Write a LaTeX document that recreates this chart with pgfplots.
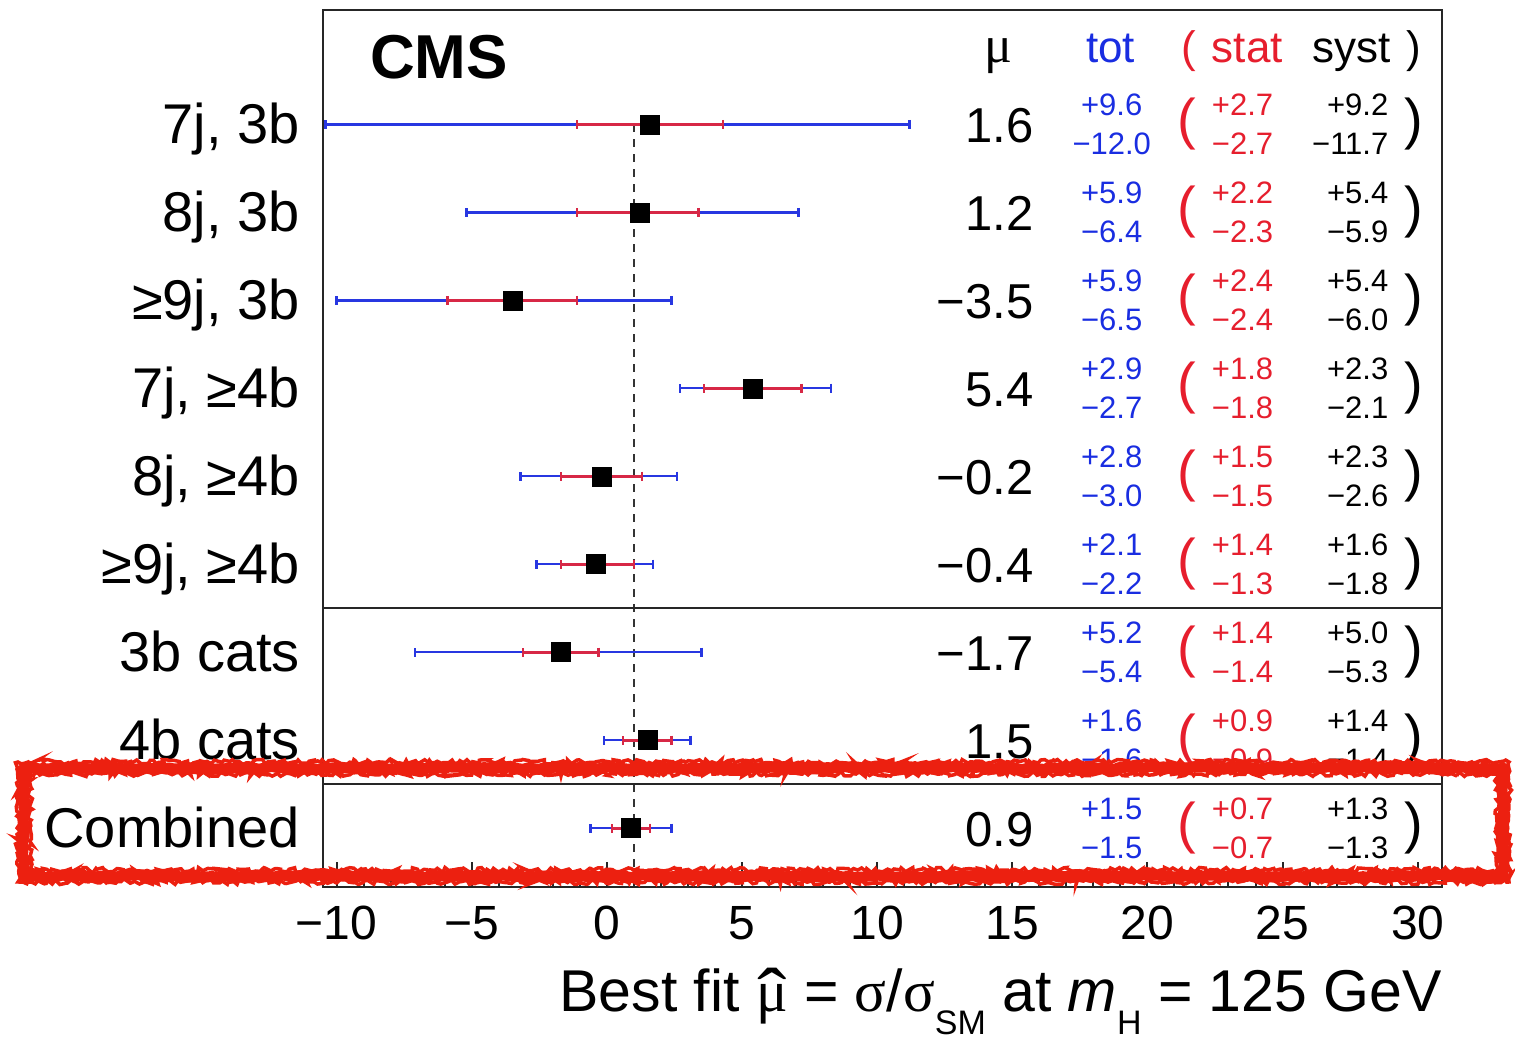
\documentclass[border=0pt]{standalone}
\usepackage{pgfplots}
\pgfplotsset{compat=1.18}
\usepackage{pgfplotstable}
\usepackage{graphicx}
\usepackage{fontspec}
\setmainfont{Liberation Sans}
\newfontfamily\greekfont{Liberation Serif}
\usetikzlibrary{decorations.pathmorphing}

\definecolor{totblue}{RGB}{40,55,225}
\definecolor{statred}{RGB}{215,40,70}
\definecolor{txtblue}{RGB}{25,45,225}
\definecolor{txtred}{RGB}{230,30,45}
\definecolor{markred}{RGB}{236,32,16}

\newcommand\fs[1]{\fontsize{#1}{#1}\selectfont}
\newcommand\muhat{{\greekfont\ooalign{μ\cr\hidewidth\raisebox{-0.16em}{\scalebox{1.5}[1.3]{ˆ}}\hidewidth\cr}}}

% best-fit signal strength per category: value, total and statistical uncertainties
\pgfplotstableread{
y mu totp totm statp statm
8 1.6 9.6 12.0 2.7 2.7
7 1.2 5.9 6.4 2.2 2.3
6 -3.5 5.9 6.5 2.4 2.4
5 5.4 2.9 2.7 1.8 1.8
4 -0.2 2.8 3.0 1.5 1.5
3 -0.4 2.1 2.2 1.4 1.3
2 -1.7 5.2 5.4 1.4 1.4
1 1.5 1.6 1.6 0.9 0.9
0 0.9 1.5 1.5 0.7 0.7
}\fits

% text columns of one row: y, mu, tot+, tot-, stat+, stat-, syst+, syst-
\tikzset{val/.style={inner sep=0pt, font=\fs{31}}}
\newcommand\fitrow[8]{%
  \node[inner sep=0pt, anchor=base east, font=\fs{49}, yshift=-18pt] at (axis cs:15.79,#1) {#2};
  \node[val, anchor=base, text=txtblue, yshift=9pt] at (axis cs:18.68,#1) {#3};
  \node[val, anchor=base, text=txtblue, yshift=-30pt] at (axis cs:18.68,#1) {#4};
  \node[inner sep=0pt, font=\fs{56}, text=txtred] at (axis cs:21.45,#1) {(};
  \node[val, anchor=base, text=txtred, yshift=9pt] at (axis cs:23.52,#1) {#5};
  \node[val, anchor=base, text=txtred, yshift=-30pt] at (axis cs:23.52,#1) {#6};
  \node[val, anchor=base east, yshift=9pt] at (axis cs:28.92,#1) {#7};
  \node[val, anchor=base east, yshift=-30pt] at (axis cs:28.92,#1) {#8};
  \node[inner sep=0pt, font=\fs{56}] at (axis cs:29.84,#1) {)};
}

\begin{document}
\begin{tikzpicture}
\pgfmathsetseed{42}
\path[use as bounding box] (-323pt,-153pt) rectangle (1192pt,887pt);
\begin{axis}[
  at={(0pt,0pt)}, anchor=south west,
  scale only axis, width=1119pt, height=877pt,
  xmin=-10.5, xmax=30.9, ymin=-0.67, ymax=9.3,
  axis line style={line width=2.5pt, black!85},
  xtick={-10,-5,0,5,10,15,20,25,30},
  xticklabels={−10,−5,0,5,10,15,20,25,30},
  minor x tick num=4,
  xtick pos=bottom,
  tick align=inside,
  major tick length=25pt, minor tick length=12pt,
  tick style={line width=2pt, black!85},
  xticklabel style={font=\fs{48}, anchor=base, yshift=-53pt, inner sep=0pt},
  ytick={0,...,8},
  yticklabels={Combined,4b cats,3b cats,{≥9j, ≥4b},{8j, ≥4b},{7j, ≥4b},{≥9j, 3b},{8j, 3b},{7j, 3b}},
  ytick style={draw=none},
  yticklabel style={font=\fs{56}, anchor=base east, inner sep=0pt, xshift=-23pt, yshift=-19pt},
  xlabel={Best fit \muhat\ = {\greekfont σ}/{\greekfont σ}\lower23pt\hbox{\fs{34}SM} at \textit{m}\lower23pt\hbox{\fs{34}H} = 125 GeV},
  xlabel style={at={(axis description cs:1,0)}, anchor=base east, yshift=-125pt, inner sep=0pt, font=\fs{59}},
  clip=false,
]
% SM expectation
\addplot[black!80, line width=2.5pt, dash pattern=on 8pt off 7pt] coordinates {(1,8) (1,-0.67)};
% group separators
\draw[line width=2pt, black!85] (axis cs:-10.5,2.5) -- (axis cs:30.9,2.5);
\draw[line width=2pt, black!85] (axis cs:-10.5,0.5) -- (axis cs:30.9,0.5);

% total uncertainty
\addplot[draw=none, mark=none, error bars/.cd, x dir=both, x explicit,
  error mark=|,
  error bar style={draw=totblue, line width=2.5pt},
  error mark options={draw=totblue, line width=2.5pt, mark size=4.5pt}]
  table[x=mu, y=y, x error plus=totp, x error minus=totm] {\fits};
% statistical uncertainty
\addplot[draw=none, mark=none, error bars/.cd, x dir=both, x explicit,
  error mark=|,
  error bar style={draw=statred, line width=3pt},
  error mark options={draw=statred, line width=2.5pt, mark size=4.5pt}]
  table[x=mu, y=y, x error plus=statp, x error minus=statm] {\fits};
% best-fit values
\addplot[only marks, mark=square*, mark size=9.5pt, black] table[x=mu, y=y] {\fits};

\node[inner sep=0pt, anchor=base west, font=\fs{62}\bfseries, yshift=46pt] at (axis cs:-8.76,8) {CMS};
\node[inner sep=0pt, anchor=base, font=\fs{52}\greekfont, yshift=62pt] at (axis cs:14.50,8) {μ};
\node[inner sep=0pt, anchor=base, font=\fs{44}, text=txtblue, yshift=62pt] at (axis cs:18.64,8) {tot};
\node[inner sep=0pt, anchor=base, font=\fs{44}, text=txtred, yshift=62pt] at (axis cs:21.55,8) {(};
\node[inner sep=0pt, anchor=base, font=\fs{44}, text=txtred, yshift=62pt] at (axis cs:23.70,8) {stat};
\node[inner sep=0pt, anchor=base, font=\fs{44}, yshift=62pt] at (axis cs:27.55,8) {syst};
\node[inner sep=0pt, anchor=base, font=\fs{44}, yshift=62pt] at (axis cs:29.84,8) {)};

\fitrow{8}{1.6}{+9.6}{−12.0}{+2.7}{−2.7}{+9.2}{−11.7}
\fitrow{7}{1.2}{+5.9}{−6.4}{+2.2}{−2.3}{+5.4}{−5.9}
\fitrow{6}{−3.5}{+5.9}{−6.5}{+2.4}{−2.4}{+5.4}{−6.0}
\fitrow{5}{5.4}{+2.9}{−2.7}{+1.8}{−1.8}{+2.3}{−2.1}
\fitrow{4}{−0.2}{+2.8}{−3.0}{+1.5}{−1.5}{+2.3}{−2.6}
\fitrow{3}{−0.4}{+2.1}{−2.2}{+1.4}{−1.3}{+1.6}{−1.8}
\fitrow{2}{−1.7}{+5.2}{−5.4}{+1.4}{−1.4}{+5.0}{−5.3}
\fitrow{1}{1.5}{+1.6}{−1.6}{+0.9}{−0.9}{+1.4}{−1.4}
\fitrow{0}{0.9}{+1.5}{−1.5}{+0.7}{−0.7}{+1.3}{−1.3}
\end{axis}

% hand-drawn highlight around the combined result
\draw[markred, line width=11pt, line join=round, decorate,
  decoration={random steps, segment length=5pt, amplitude=1.5pt}]
  (-299pt,11pt) rectangle (1180pt,119pt);
\draw[markred, line width=3.5pt, decorate,
  decoration={random steps, segment length=3pt, amplitude=2.5pt}]
  (-305pt,5pt) rectangle (1186pt,125pt);
\draw[markred, line width=3.5pt, decorate,
  decoration={random steps, segment length=3pt, amplitude=2.5pt}]
  (-293pt,17pt) rectangle (1174pt,113pt);
\end{tikzpicture}
\end{document}
